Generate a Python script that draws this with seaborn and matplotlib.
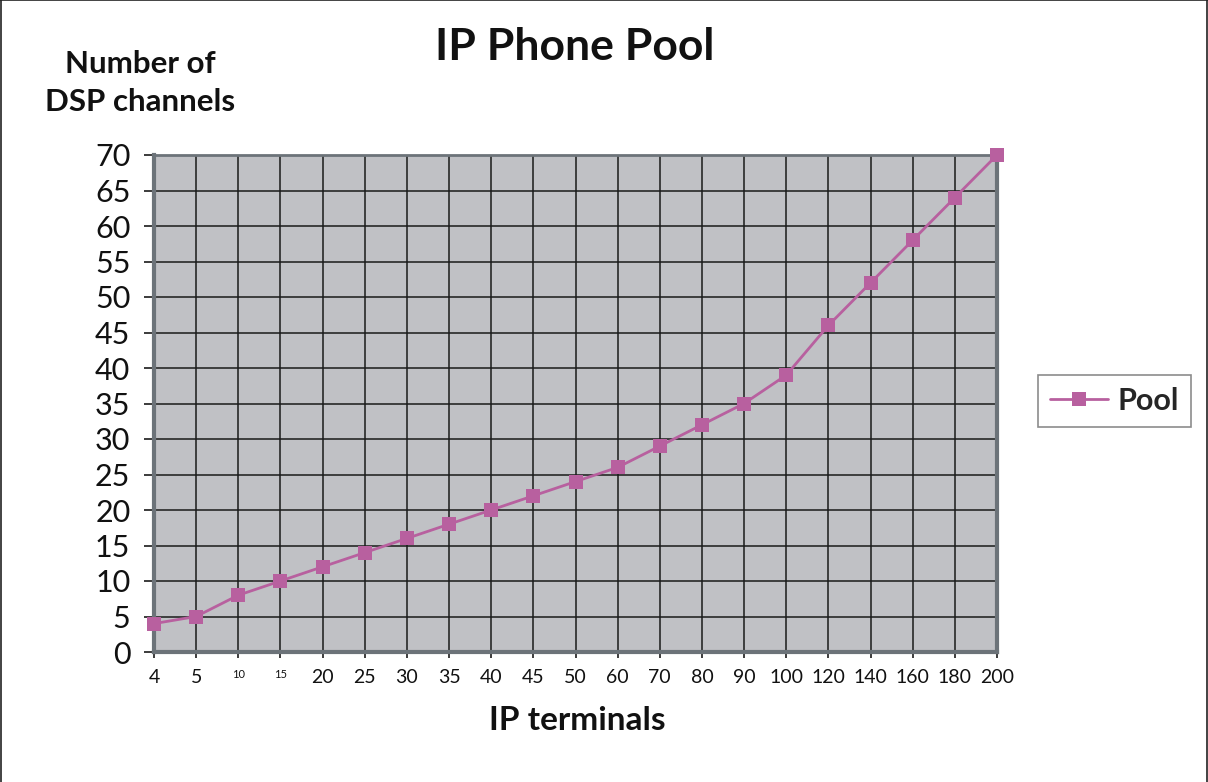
import matplotlib
matplotlib.use("Agg")
import matplotlib.pyplot as plt
from matplotlib.lines import Line2D
import seaborn as sns
import pandas as pd

# Data
terminals = ["4", "5", "10", "15", "20", "25", "30", "35", "40", "45", "50",
             "60", "70", "80", "90", "100", "120", "140", "160", "180", "200"]
channels = [4, 5, 8, 10, 12, 14, 16, 18, 20, 22, 24,
            26, 29, 32, 35, 39, 46, 52, 58, 64, 70]
y_ticks = list(range(0, 75, 5))
series_name = "Pool"

sns.set_theme(style="white")
plt.rcParams["font.family"] = ["Lato", "DejaVu Sans"]

df = pd.DataFrame({"pos": range(len(terminals)), "val": channels})

fig = plt.figure(figsize=(12.08, 7.82), dpi=100)
ax = fig.add_axes([154 / 1208, 1 - 652 / 782, (997 - 154) / 1208, (652 - 155) / 782])

line_color = "#b8609f"
sns.lineplot(data=df, x="pos", y="val", ax=ax, color=line_color, linewidth=2,
             marker="s", markersize=10.5, markeredgewidth=0, label=series_name,
             clip_on=False, zorder=5)

ax.set_facecolor("#c0c1c5")
ax.set_xlim(0, len(terminals) - 1)
ax.set_ylim(0, 70)
ax.set_xticks(range(len(terminals)))
ax.set_xticklabels(terminals)
ax.set_yticks(y_ticks)
ax.set_yticklabels([str(t) for t in y_ticks], fontsize=22, color="#111111")
for lbl, t in zip(ax.get_xticklabels(), terminals):
    lbl.set_fontsize(8 if t in ("10", "15") else 14)
    lbl.set_color("#111111")

ax.grid(True, color="#1a1a1a", linewidth=1.1)
ax.set_axisbelow(True)
for side in ["left", "bottom", "right", "top"]:
    ax.spines[side].set_visible(True)
    ax.spines[side].set_color("#6c7379")
ax.spines["left"].set_linewidth(3)
ax.spines["right"].set_linewidth(3)
ax.spines["bottom"].set_linewidth(3)
ax.spines["top"].set_linewidth(2)
ax.tick_params(axis="y", length=7, width=1.2, color="#1a1a1a",
               direction="out", left=True, pad=10)
ax.tick_params(axis="x", length=4.5, width=1.2, color="#1a1a1a",
               direction="out", bottom=True, pad=8)

ax.set_xlabel("")
ax.set_ylabel("")

fig.text(575 / 1208, 1 - 47 / 782, "IP Phone Pool", ha="center", va="center",
         fontsize=32, fontweight="bold", color="#111111")
fig.text(140 / 1208, 1 - 83 / 782, "Number of\nDSP channels", ha="center",
         va="center", fontsize=22.5, fontweight="bold", color="#111111",
         linespacing=1.45)
fig.text(577 / 1208, 1 - 721 / 782, "IP terminals", ha="center", va="center",
         fontsize=24, fontweight="bold", color="#111111")

leg = ax.legend(loc="center left", bbox_to_anchor=(1038 / 1208, 1 - 401 / 782),
                bbox_transform=fig.transFigure, frameon=True, fancybox=False,
                prop={"weight": "bold", "size": 22}, handlelength=1.9,
                borderpad=0.4, handletextpad=0.3, borderaxespad=0)
leg.get_frame().set_edgecolor("#6f6f6f")
leg.get_frame().set_linewidth(1.2)

# Outer frame on top, left and right
for xs, ys in [([0, 1], [0.9995, 0.9995]), ([0.0005, 0.0005], [0, 1]),
               ([0.9995, 0.9995], [0, 1])]:
    fig.add_artist(Line2D(xs, ys, transform=fig.transFigure, color="#222222",
                          linewidth=1.2))

fig.savefig("out.png", dpi=100, facecolor="white")
